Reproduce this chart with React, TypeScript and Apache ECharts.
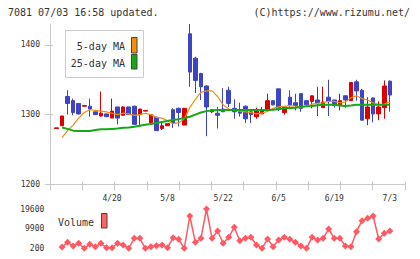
import React, { useEffect, useRef } from "react";
import * as echarts from "echarts";

const dates = [
  "4/6","4/7","4/8","4/9","4/10","4/13","4/14","4/15","4/16","4/17",
  "4/20","4/21","4/22","4/23","4/24","4/27","4/28","4/30","5/1","5/7",
  "5/8","5/11","5/12","5/13","5/14","5/15","5/18","5/19","5/20","5/21",
  "5/22","5/25","5/26","5/27","5/28","5/29","6/1","6/2","6/3","6/4",
  "6/5","6/8","6/9","6/10","6/11","6/12","6/15","6/16","6/17","6/18",
  "6/19","6/22","6/23","6/24","6/25","6/26","6/29","6/30","7/1","7/2","7/3",
];

const opens = [
  1280,1284,1326,1320,1316,1312,1312,1304,1298,1301,
  1295,1311,1299,1311,1312,1300,1305,1288,1296,1280,
  1284,1307,1309,1285,1416,1381,1359,1341,1304,1302,
  1308,1335,1309,1306,1312,1304,1297,1301,1306,1320,
  1337,1303,1325,1317,1330,1320,1319,1321,1310,1325,
  1321,1314,1327,1320,1347,1335,1294,1324,1301,1310,1348,
];
const closes = [
  1281,1298,1316,1303,1301,1313,1308,1300,1302,1297,
  1305,1295,1311,1300,1286,1308,1306,1300,1277,1284,
  1287,1288,1303,1309,1361,1349,1340,1311,1307,1299,
  1304,1316,1304,1302,1294,1300,1306,1306,1320,1314,
  1307,1311,1314,1313,1309,1314,1327,1317,1318,1319,
  1313,1320,1321,1346,1334,1292,1311,1301,1311,1341,1328,
];
const lows = [
  1280,1284,1300,1299,1300,1312,1297,1300,1297,1297,
  1295,1286,1299,1300,1285,1285,1305,1288,1277,1278,
  1284,1281,1283,1285,1340,1331,1321,1269,1302,1280,
  1304,1311,1294,1297,1288,1288,1294,1301,1306,1313,
  1305,1300,1308,1306,1304,1313,1309,1298,1310,1298,
  1310,1306,1310,1320,1320,1292,1285,1289,1292,1294,1304,
];
const highs = [
  1281,1298,1335,1323,1316,1313,1323,1304,1333,1301,
  1323,1311,1312,1311,1313,1308,1306,1300,1297,1289,
  1287,1309,1310,1309,1430,1383,1360,1342,1307,1311,
  1338,1340,1322,1317,1313,1305,1310,1311,1330,1320,
  1337,1311,1335,1330,1330,1320,1327,1340,1340,1350,
  1321,1330,1327,1346,1350,1337,1325,1324,1319,1349,1349,
];

const ma5 = [
  null,1267,1277,1285,1295,1303,1307,1306,1305,1304,
  1302,1300,1302,1301,1299,1300,1302,1300,1296,1295,
  1291,1287,1288,1294,1310,1322,1332,1334,1334,1326,
  1314,1308,1306,1305,1304,1303,1301,1302,1305,1309,
  1311,1312,1313,1312,1311,1312,1315,1316,1317,1319,
  1319,1317,1318,1324,1327,1323,1321,1317,1314,1315,1318,
];
const ma25 = [
  null,1281.5,1279.5,1277,1276.5,1276.5,1276.5,1278,1279,1279,
  1279.5,1280,1281,1281.5,1282.5,1284,1285.5,1286.5,1288,1289.5,
  1291,1292.5,1293.5,1295,1297,1300,1303,1305,1306,1306.5,
  1306.5,1306.5,1306.5,1306.5,1306.5,1306.5,1306.5,1306.5,1306.5,1307,
  1308,1309,1309.5,1310,1311,1312,1312.5,1313.5,1314,1314,
  1314,1313,1312.5,1313,1314,1314,1314,1314,1314,1314,1314,
];

const volumes = [
  null,840,3160,1340,2670,200,2170,1000,2670,500,
  500,2670,1830,200,5140,5140,200,1000,1480,1830,
  500,5430,4640,200,16140,3160,5140,19600,5140,8740,
  2670,5630,10570,3950,5140,5630,1830,200,4790,1000,
  4300,5630,4640,3160,1340,200,5630,4300,5140,9730,
  5140,5140,1340,1000,8400,13820,15000,16140,4790,7600,8740,
];

const priceTicks = [1200, 1300, 1400];
const volumeTicks = [200, 9900, 19600];

export default function App() {
  const ref = useRef<HTMLDivElement>(null);
  useEffect(() => {
    const chart = echarts.init(ref.current!, null, { renderer: "svg" });
    const FONT = '"DejaVu Sans Mono", monospace';
    const gray = "#c8c8c8";
    const txt = "#333333";
    const red = "#dc0000";
    const blue = "#3d45c3";
    const orange = "#f0900f";
    const green = "#14a814";
    const volColor = "#ff5a64";
    const candles = opens.map((o, i) => [o, closes[i], lows[i], highs[i]]);
    const plain = (v: number) => String(v);

    chart.setOption({
      animation: false,
      grid: [
        { left: 50, right: 15, top: 24, height: 160.3 },
        { left: 53.7, right: 27.4, top: 24, height: 160.3 },
        { left: 53.7, right: 27.4, top: 209, height: 39.3 },
      ],
      xAxis: [
        {
          gridIndex: 0, type: "value", min: 0, max: 11, interval: 1, position: "bottom",
          axisLine: { show: true, lineStyle: { color: gray } },
          axisTick: { show: true, length: 6, lineStyle: { color: gray } },
          axisLabel: { show: false }, splitLine: { show: false },
        },
        {
          gridIndex: 0, type: "value", min: 0, max: 11, interval: 1, position: "bottom",
          axisLine: { show: false },
          axisTick: { show: true, inside: true, length: 3, lineStyle: { color: gray } },
          axisLabel: { show: false }, splitLine: { show: false },
        },
        {
          gridIndex: 1, type: "category", data: dates, boundaryGap: true,
          axisLine: { show: false }, axisTick: { show: false }, splitLine: { show: false },
          axisLabel: {
            interval: (i: number) => i > 0 && i % 10 === 0,
            fontFamily: FONT, fontSize: 8, color: txt, margin: 10,
          },
        },
        { gridIndex: 2, type: "category", data: dates, boundaryGap: true, show: false },
      ],
      yAxis: [
        {
          gridIndex: 0, type: "value", min: 1200, max: 1430, position: "left",
          axisLine: { show: true, lineStyle: { color: gray } },
          axisTick: { show: true, length: 5, customValues: priceTicks, lineStyle: { color: gray } },
          axisLabel: { customValues: priceTicks, formatter: plain, fontFamily: FONT, fontSize: 8, color: txt, margin: 10 },
          splitLine: { show: false },
        },
        {
          gridIndex: 0, type: "value", min: 1200, max: 1430, position: "left",
          axisLine: { show: false },
          axisTick: { show: true, inside: true, length: 3, customValues: priceTicks, lineStyle: { color: gray } },
          axisLabel: { show: false }, splitLine: { show: false },
        },
        { gridIndex: 1, type: "value", min: 1200, max: 1430, show: false },
        {
          gridIndex: 2, type: "value", min: 200, max: 19600,
          axisLine: { show: false }, axisTick: { show: false }, splitLine: { show: false },
          axisLabel: { customValues: volumeTicks, formatter: plain, fontFamily: FONT, fontSize: 8, color: txt, margin: 9.4 },
        },
      ],
      series: [
        {
          type: "candlestick", xAxisIndex: 2, yAxisIndex: 2, data: candles, barWidth: 4,
          itemStyle: { color: red, color0: blue, borderColor: red, borderColor0: blue, borderWidth: 1 },
        },
        {
          type: "line", xAxisIndex: 2, yAxisIndex: 2, data: ma5, symbol: "none",
          lineStyle: { color: orange, width: 1.2 }, z: 3,
        },
        {
          type: "line", xAxisIndex: 2, yAxisIndex: 2, data: ma25, symbol: "none",
          lineStyle: { color: green, width: 2 }, z: 3,
        },
        {
          type: "line", xAxisIndex: 3, yAxisIndex: 3, data: volumes, symbol: "diamond", symbolSize: 7,
          showAllSymbol: true, clip: false,
          lineStyle: { color: volColor, width: 1.5 }, itemStyle: { color: volColor },
        },
      ],
      graphic: [
        { type: "text", left: 8, top: 7, style: { text: "7081 07/03 16:58 updated.", font: `10px ${FONT}`, fill: txt } },
        { type: "text", right: 10, top: 7, style: { text: "(C)https://www.rizumu.net/", font: `10px ${FONT}`, fill: txt } },
        { type: "rect", shape: { x: 65.5, y: 30.5, width: 78, height: 47 }, style: { fill: "#fff", stroke: "#cccccc", lineWidth: 1 }, z: 10 },
        { type: "text", x: 125, y: 46, style: { text: "5-day MA", font: `10px ${FONT}`, fill: txt, align: "right", verticalAlign: "middle" }, z: 11 },
        { type: "text", x: 125, y: 63.5, style: { text: "25-day MA", font: `10px ${FONT}`, fill: txt, align: "right", verticalAlign: "middle" }, z: 11 },
        { type: "rect", shape: { x: 131.5, y: 37.5, width: 5.5, height: 15.5 }, style: { fill: orange, stroke: "#444", lineWidth: 1 }, z: 11 },
        { type: "rect", shape: { x: 131.5, y: 54.5, width: 5.5, height: 14.5 }, style: { fill: green, stroke: "#444", lineWidth: 1 }, z: 11 },
        { type: "text", x: 58, y: 222, style: { text: "Volume", font: `10px ${FONT}`, fill: txt, verticalAlign: "middle" }, z: 11 },
        { type: "rect", shape: { x: 101.5, y: 213.5, width: 5.5, height: 14.5 }, style: { fill: "#ff6464", stroke: "#444", lineWidth: 1 }, z: 11 },
      ],
    });
    return () => chart.dispose();
  }, []);
  return <div ref={ref} style={{ position: "fixed", left: 0, top: 0, width: 420, height: 259, background: "#fff" }} />;
}
